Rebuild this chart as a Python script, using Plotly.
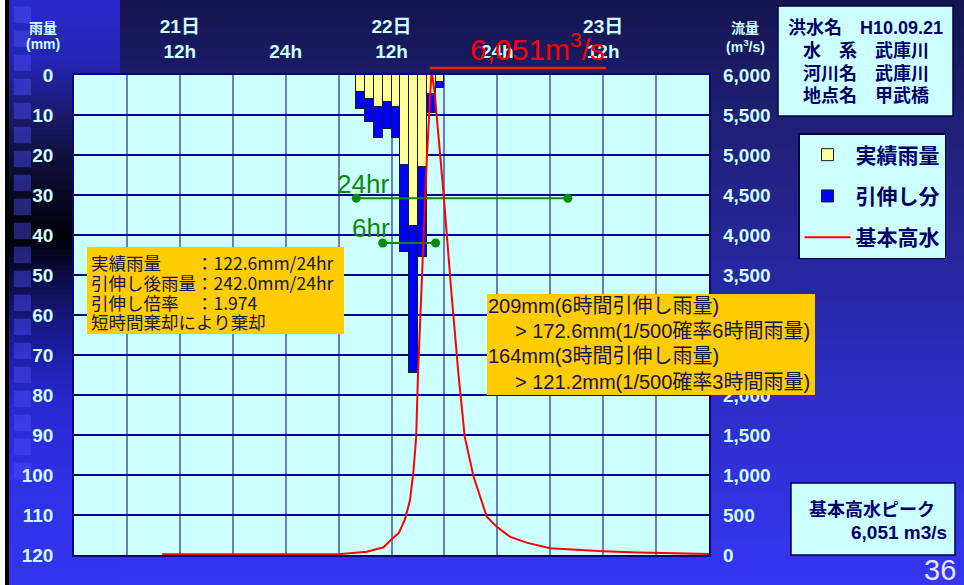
import plotly.graph_objects as go

# ---------------- data ----------------
rain_hours = [32.5, 33.5, 34.5, 35.5, 36.5, 37.5, 38.5, 39.5, 40.5, 41.5]
rain_actual = [4.3, 5.9, 8.0, 6.8, 8.0, 22.4, 37.8, 23.0, 4.7, 1.7]
rain_extension = [4.1, 5.8, 7.7, 6.6, 7.8, 21.8, 36.8, 22.4, 4.8, 1.6]

flow_hours = [10, 30, 33.2, 34.2, 35.1, 36.0, 36.8, 37.5, 38.1, 38.5, 38.8, 39.0,
              39.5, 40.0, 40.4, 40.55, 40.9, 41.9, 42.8, 43.6, 44.3, 45.3, 46.8,
              47.9, 49.4, 51.3, 54.0, 57, 60, 64, 68, 72]
flow_values = [10, 10, 40, 70, 96, 196, 271, 437, 687, 1062, 1479, 2250,
               3690, 4940, 5775, 6051, 5770, 4520, 3270, 2250, 1480, 980, 480,
               355, 230, 155, 85, 62, 48, 32, 20, 12]

span24_hours = [32, 56]
span24_level = [30.8, 30.8]
span6_hours = [35, 41]
span6_level = [42.0, 42.0]

grid_hours = [0, 6, 12, 18, 24, 30, 36, 42, 48, 54, 60, 66, 72]
top_tick_hours = [12, 24, 36, 48, 60]
top_tick_labels = ["21日<br>12h", "24h", "22日<br>12h", "24h", "23日<br>12h"]
rain_ticks = [0, 10, 20, 30, 40, 50, 60, 70, 80, 90, 100, 110, 120]
flow_ticks = [0, 500, 1000, 1500, 2000, 2500, 3000, 3500, 4000, 4500, 5000, 5500, 6000]

peak_flow = 6051
peak_hour = 40.55

info_lines = ["洪水名　H10.09.21", "水　系　武庫川", "河川名　武庫川", "地点名　甲武橋"]
left_note = ["実績雨量　　：122.6mm/24hr", "引伸し後雨量：242.0mm/24hr",
             "引伸し倍率　：1.974", "短時間棄却により棄却"]
right_note = ["209mm(6時間引伸し雨量)", "> 172.6mm(1/500確率6時間雨量)",
              "164mm(3時間引伸し雨量)", "> 121.2mm(1/500確率3時間雨量)"]

# ---------------- geometry helpers (pixels -> paper) ----------------
W, H = 964, 585
L, R, T, B = 74, 709, 75, 555
PW, PH = R - L, B - T


def px(x):
    return (x - L) / PW


def py(y):
    return (B - y) / PH


LAT = "Liberation Sans, Arial, Noto Sans CJK JP"
CJK = "Noto Sans CJK JP, Liberation Sans"
CYAN = "#ccffff"
NAVY = "#000066"
NOTE = "#141450"

# ---------------- traces ----------------
fig = go.Figure()
fig.add_trace(go.Bar(
    x=rain_hours, y=rain_actual, width=1, name="実績雨量", legendgroup="a",
    marker=dict(color="#ffff99", line=dict(color="#1a1a1a", width=1)),
    xaxis="x", yaxis="y"))
fig.add_trace(go.Bar(
    x=rain_hours, y=rain_extension, width=1, name="引伸し分", legendgroup="b",
    marker=dict(color="#0000ff", line=dict(color="#1a1a1a", width=1)),
    xaxis="x", yaxis="y"))
fig.add_trace(go.Scatter(
    x=span24_hours, y=span24_level, mode="lines+markers", showlegend=False,
    line=dict(color="#0a8a0a", width=2), marker=dict(color="#0a8a0a", size=9),
    xaxis="x", yaxis="y"))
fig.add_trace(go.Scatter(
    x=span6_hours, y=span6_level, mode="lines+markers", showlegend=False,
    line=dict(color="#0a8a0a", width=2), marker=dict(color="#0a8a0a", size=9),
    xaxis="x", yaxis="y"))
fig.add_trace(go.Scatter(
    x=flow_hours, y=flow_values, mode="lines", name="基本高水", legendgroup="c",
    line=dict(color="#ff0000", width=2), xaxis="x", yaxis="y2"))

# ---------------- background gradient (around the plot area) ----------------
main_stops = [(0, (20, 20, 78)), (75, (28, 28, 104)), (200, (36, 36, 140)),
              (300, (40, 40, 168)), (400, (46, 46, 200)), (555, (52, 52, 236)),
              (585, (54, 54, 240))]
left_stops = [(0, (42, 42, 205)), (60, (36, 36, 180)), (115, (26, 26, 110)),
              (155, (16, 16, 64)), (195, (8, 8, 36)), (237, (0, 0, 8)),
              (275, (12, 12, 66)), (315, (22, 22, 120)), (355, (30, 30, 168)),
              (400, (40, 40, 205)), (480, (48, 48, 230)), (585, (52, 52, 238))]


def grad(stops, y):
    for (y0, c0), (y1, c1) in zip(stops, stops[1:]):
        if y0 <= y <= y1:
            t = (y - y0) / (y1 - y0)
            return "rgb(%d,%d,%d)" % tuple(round(a + (b - a) * t) for a, b in zip(c0, c1))
    return "rgb(%d,%d,%d)" % stops[-1][1]


shapes = []


def rect(x0, x1, y0, y1, fill, line=None, lw=0, layer="below"):
    shapes.append(dict(type="rect", xref="paper", yref="paper",
                       x0=px(x0), x1=px(x1), y0=py(y1), y1=py(y0),
                       fillcolor=fill, layer=layer,
                       line=dict(width=lw, color=line or fill)))


regions = [
    (120, W, 0, T, main_stops), (9, 120, 0, T, left_stops),
    (120, W, B, H, main_stops), (9, 120, B, H, left_stops),
    (R, W, T, B, main_stops), (9, L, T, B, left_stops),
]
STEP = 5
for x0, x1, y0, y1, stops in regions:
    y = y0
    while y < y1:
        yb = min(y + STEP + 0.8, y1)
        rect(x0, x1, y, yb, grad(stops, y + STEP / 2))
        y += STEP

rect(0, 5, 0, H, "#ffffff")
rect(5, 9, 0, H, "#000000")
for k in range(20):
    top = 6.7 + 24 * k
    rect(14, 31, top, top + 16.5, "rgba(80,80,255,0.42)")

# boxes
rect(778, 953, 6, 116, CYAN, line="#000044", lw=1.5, layer="above")
rect(791, 955, 483, 555, CYAN, line="#000044", lw=1.5, layer="above")
rect(87, 344, 247, 334, "#ffcc00", layer="above")
rect(487, 815, 294, 395, "#ffcc00", layer="above")

# peak underline
shapes.append(dict(type="line", xref="paper", yref="paper",
                   x0=peak_hour / 72 - 0.003, x1=px(606), y0=py(68), y1=py(68),
                   line=dict(color="#ff2200", width=2.5), layer="above"))

# ---------------- annotations ----------------
anns = []


def ann(text, x, y, size, color, family=LAT, weight="normal", xanchor="center",
        yanchor="middle"):
    anns.append(dict(text=text, x=px(x), y=py(y), xref="paper", yref="paper",
                     showarrow=False, xanchor=xanchor, yanchor=yanchor,
                     font=dict(size=size, color=color, family=family, weight=weight)))


ann("雨量", 43, 27, 14, CYAN, CJK, "bold")
ann("(mm)", 43, 44, 14, CYAN, LAT, "bold")
ann("流量", 745, 27, 14, CYAN, CJK, "bold")
ann("(m<sup>3</sup>/s)", 745, 46, 14, CYAN, LAT, "bold")

for line, yy in zip(info_lines, [28, 51, 73, 96]):
    ann(line, 865.5, yy, 18, NAVY, "Liberation Sans, Noto Sans CJK JP", "bold")

ann("基本高水ピーク", 872, 508, 18, NAVY, CJK, "bold")
ann(f"{peak_flow:,} m3/s", 949, 532, 19, NAVY, LAT, "bold", xanchor="right")

for line, yy in zip(left_note, [262, 282, 302, 321]):
    ann(line, 89, yy, 17.5, NOTE, CJK, xanchor="left")

for line, (xx, yy) in zip(right_note, [(486, 306), (513, 331), (486, 356), (513, 382)]):
    ann(line, xx, yy, 20, NOTE, "Liberation Sans, Noto Sans CJK JP", xanchor="left")

ann(f"{peak_flow:,}m<sup>3</sup>/s", 537, 47, 30, "#ff0000", LAT)
ann("36", 940, 570, 29, "#e6e6ff", LAT)

anns.append(dict(text="24hr", x=35.9, y=27.2, xref="x", yref="y", showarrow=False,
                 xanchor="right", font=dict(size=26, color="#0a8a0a", family=LAT)))
anns.append(dict(text="6hr", x=36.1, y=38.2, xref="x", yref="y", showarrow=False,
                 xanchor="right", font=dict(size=26, color="#0a8a0a", family=LAT)))

# ---------------- layout ----------------
tick_text = {h: t for h, t in zip(top_tick_hours, top_tick_labels)}
tickfont = dict(family=LAT, size=19, color=CYAN, weight="bold")

fig.update_layout(
    width=W, height=H,
    margin=dict(l=L, r=W - R, t=T, b=H - B, pad=0, autoexpand=False),
    paper_bgcolor="#2a2aa8", plot_bgcolor=CYAN,
    barmode="stack", bargap=0,
    shapes=shapes, annotations=anns,
    xaxis=dict(range=[0, 72], side="top", tickvals=grid_hours,
               ticktext=[tick_text.get(h, " ") for h in grid_hours],
               tickfont=tickfont, ticks="", ticklabelstandoff=8,
               showgrid=True, gridcolor="#6a7cbc", gridwidth=2,
               showline=True, mirror=True, linecolor="#000080", linewidth=1.5,
               zeroline=False, fixedrange=True),
    yaxis=dict(range=[120, 0], tickvals=rain_ticks, tickfont=tickfont, ticks="",
               ticklabelstandoff=15, showgrid=True, gridcolor="#000080",
               gridwidth=1.5, zeroline=False, showline=True, mirror=True,
               linecolor="#000080", linewidth=1.5, fixedrange=True),
    yaxis2=dict(range=[0, 6000], overlaying="y", side="right", tickvals=flow_ticks,
                tickformat=",d", tickfont=tickfont, ticks="", ticklabelstandoff=13,
                showgrid=False, zeroline=False, showline=False, fixedrange=True),
    legend=dict(x=px(798), y=py(133), xanchor="left", yanchor="top",
                traceorder="grouped", bgcolor=CYAN, bordercolor="#000044",
                borderwidth=1.5, tracegroupgap=11, itemwidth=46,
                font=dict(family=CJK, size=21, color=NAVY, weight="bold")),
    showlegend=True,
)

fig.write_html(
    "out.html",
    config={"displayModeBar": False},
    post_script="document.body.style.margin='0';document.body.style.overflow='hidden';",
)
